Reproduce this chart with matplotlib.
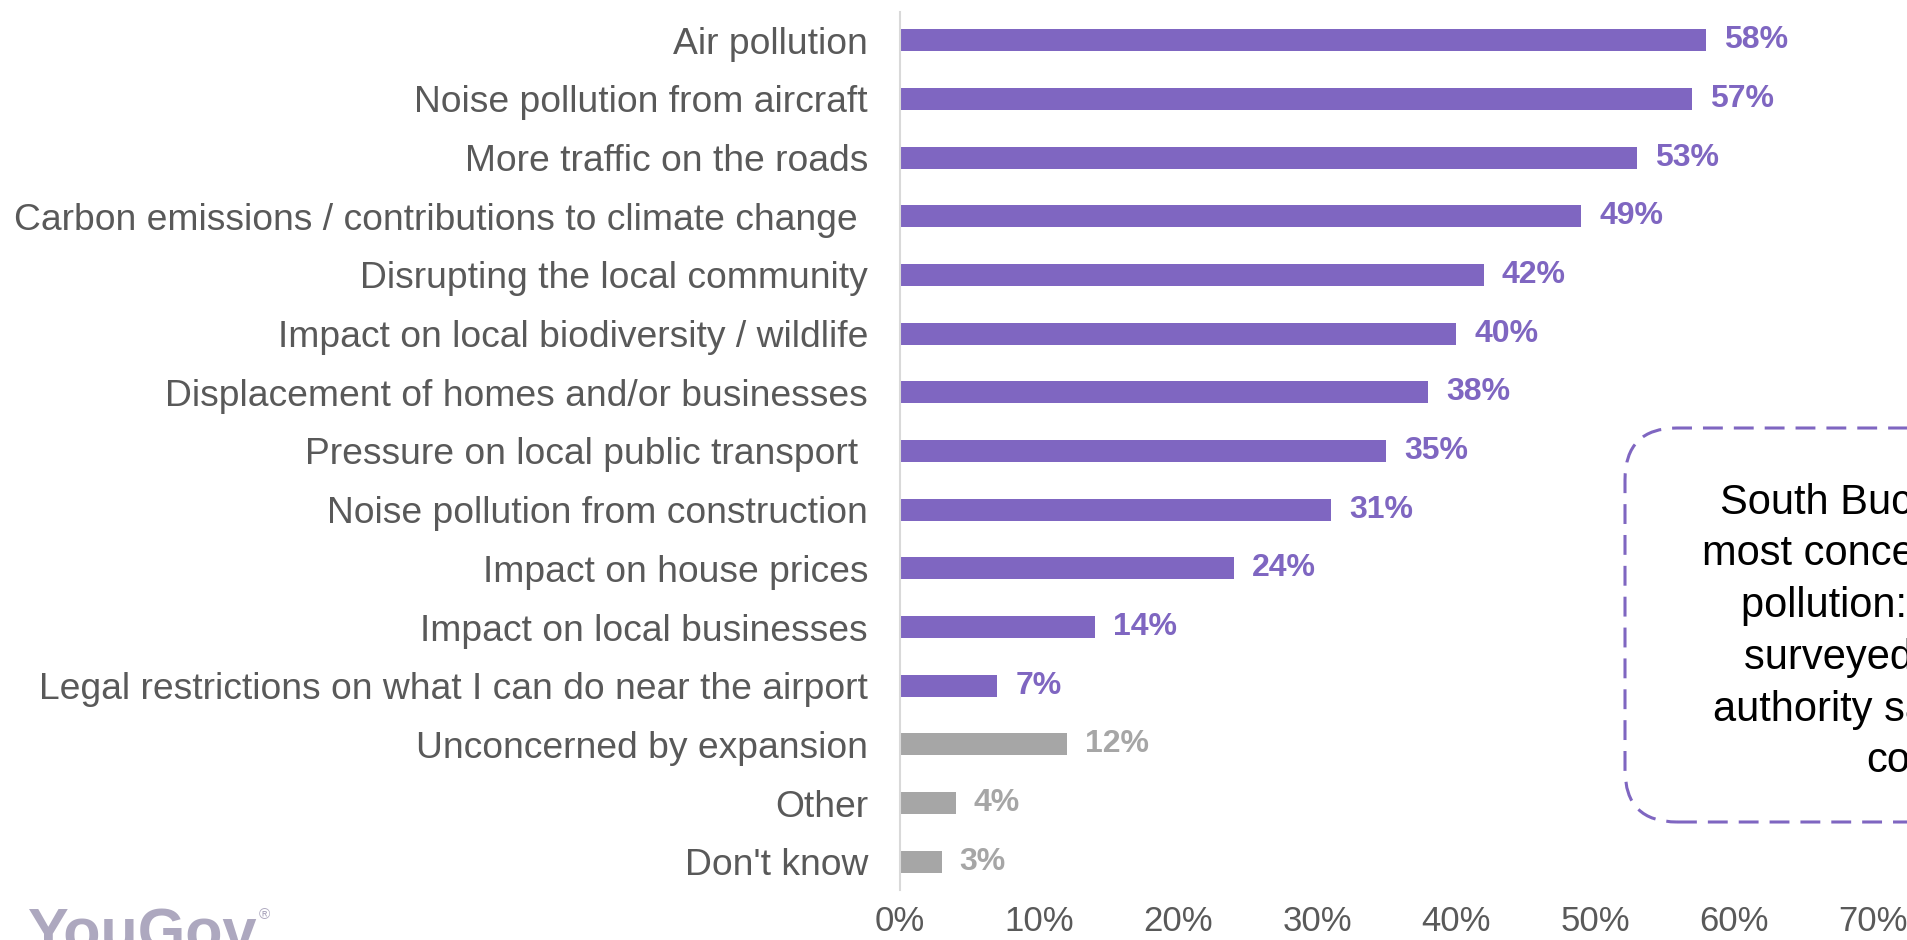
import matplotlib
matplotlib.use('Agg')
import matplotlib.pyplot as plt
import matplotlib.transforms as mtransforms
from matplotlib.patches import FancyBboxPatch
import numpy as np

plt.rcParams['font.family'] = ['Liberation Sans', 'DejaVu Sans']

# data
categories = ['Air pollution', 'Noise pollution from aircraft', 'More traffic on the roads',
              'Carbon emissions / contributions to climate change ', 'Disrupting the local community',
              'Impact on local biodiversity / wildlife', 'Displacement of homes and/or businesses',
              'Pressure on local public transport ', 'Noise pollution from construction',
              'Impact on house prices', 'Impact on local businesses',
              'Legal restrictions on what I can do near the airport',
              'Unconcerned by expansion', 'Other', "Don't know"]
values = [58, 57, 53, 49, 42, 40, 38, 35, 31, 24, 14, 7, 12, 4, 3]
is_concern = [True] * 12 + [False] * 3
xticks = [0, 10, 20, 30, 40, 50, 60, 70]
note = ("South Bucks residents are\nmost concerned about noise\npollution: 74% of people\n"
        "surveyed from this local\nauthority said they are very\nconcerned")

purple = '#7F66C1'
grey = '#A6A6A6'
text_grey = '#595959'

W, H = 1908, 940
fig = plt.figure(figsize=(W / 100, H / 100), dpi=100)
ax = fig.add_axes([900 / W, 1 - 890 / H, 1008 / W, 878 / H])

y = np.arange(len(categories))
colors = [purple if c else grey for c in is_concern]
ax.barh(y, values, height=0.375, color=colors)

for yi, v, c in zip(y, values, colors):
    ax.annotate(f'{v}%', (v, yi), xytext=(13, 0), textcoords='offset points',
                va='center', ha='left', fontsize=23, fontweight='bold', color=c)

ax.set_ylim(len(categories) - 0.52, -0.48)
ax.set_xlim(0, 1008 / 13.9)
ax.set_yticks(y)
ax.set_yticklabels(categories, fontsize=26.8, color=text_grey)
ax.set_xticks(xticks)
ax.set_xticklabels([f'{t}%' for t in xticks], fontsize=25, color=text_grey)
ax.tick_params(axis='y', length=0, pad=23)
ax.tick_params(axis='x', length=0, pad=11)

for s in ['top', 'right', 'bottom']:
    ax.spines[s].set_visible(False)
ax.spines['left'].set_color('#D9D9D9')
ax.spines['left'].set_linewidth(1.5)

# callout box (runs off the right edge like the original)
box = FancyBboxPatch((1625, H - 822), 700, 822 - 428,
                     boxstyle='round,pad=0,rounding_size=52',
                     transform=mtransforms.IdentityTransform(),
                     facecolor='none', edgecolor=purple, linewidth=2.2,
                     linestyle=(0, (6.5, 3.6)))
fig.add_artist(box)
fig.text(1963 / W, 1 - 632 / H, note, ha='center', va='center', fontsize=30,
         linespacing=1.38, multialignment='center', color='black')

# logo
fig.text(28 / W, 1 - 951 / H, 'YouGov', ha='left', va='baseline', fontsize=44,
         fontweight='bold', color='#ADA8BF')
fig.text(259 / W, 1 - 919 / H, '®', ha='left', va='baseline', fontsize=11, color='#ADA8BF')

fig.savefig('out.png', dpi=100)
